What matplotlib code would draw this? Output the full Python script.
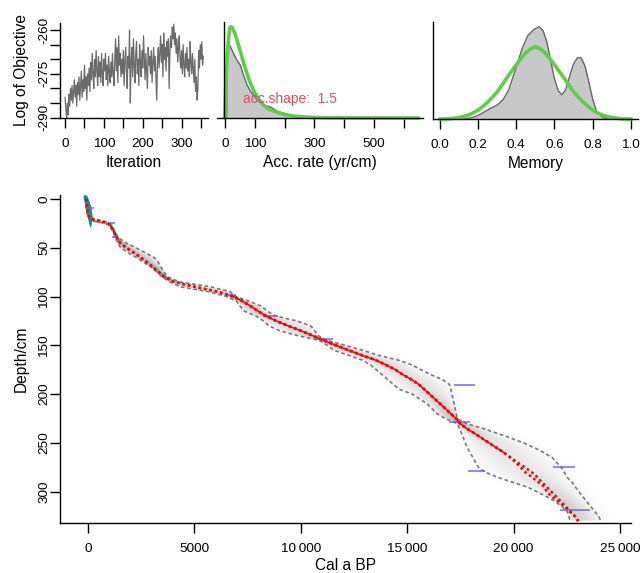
import numpy as np
import matplotlib
matplotlib.use("Agg")
import matplotlib.pyplot as plt
from matplotlib.colors import LinearSegmentedColormap

plt.rcParams['font.family'] = ['Liberation Sans', 'DejaVu Sans']

# ---- panel 1: log of objective (MCMC trace), every 2nd iteration
iterations = list(range(0, 357, 2))
log_obj = [-283, -287, -290, -285, -289, -282, -286, -280, -284, -279,
           -285, -281, -277, -283, -279, -286, -278, -282, -276, -284,
           -279, -274, -283, -277, -281, -272, -280, -276, -284, -275,
           -279, -273, -281, -271, -277, -268, -275, -280, -270, -276,
           -267, -274, -279, -269, -276, -271, -278, -268, -275, -279,
           -270, -274, -268, -277, -272, -279, -269, -274, -278, -271,
           -276, -268, -275, -279, -270, -263, -274, -266, -278, -262,
           -272, -268, -276, -270, -275, -267, -279, -271, -266, -274,
           -280, -269, -273, -260, -285, -271, -266, -276, -263, -272,
           -278, -268, -264, -275, -270, -279, -265, -271, -276, -267,
           -273, -262, -270, -277, -268, -274, -280, -266, -272, -269,
           -275, -267, -278, -271, -266, -274, -269, -277, -284, -270,
           -266, -273, -268, -262, -271, -265, -276, -261, -270, -266,
           -274, -264, -269, -263, -280, -267, -262, -266, -259, -263,
           -258, -265, -261, -268, -263, -271, -266, -262, -270, -273,
           -267, -275, -265, -272, -276, -268, -273, -266, -274, -270,
           -276, -264, -271, -275, -268, -273, -278, -270, -281, -276,
           -284, -280, -267, -273, -265, -270, -264, -272, -269]

# ---- panel 2: accumulation rate (posterior + gamma prior, shape 1.5)
acc_post_x = [0, 5.7, 8, 17, 28, 40, 51, 62, 74, 85, 108, 131, 153, 176, 210, 244, 324, 403, 650]
acc_post_y = [0, 0, 73, 72, 65, 58, 53, 43, 33, 27, 18, 13, 11, 6.7, 3.3, 1.7, 0.7, 0.2, 0]
acc_prior_x = [0, 3, 5.7, 8.5, 11.4, 14, 17, 22.7, 28, 34, 42, 51, 62.5, 79.5, 96.6,
               113.6, 130.7, 150, 176, 205, 233, 290, 350, 450, 653]
acc_prior_y = [0, 35, 52, 66, 77, 86, 91, 91, 88, 84, 76, 67, 55, 39, 27,
               18.5, 12.5, 8.5, 5.5, 3.2, 1.8, 0.6, 0.2, 0.05, 0]

# ---- panel 3: memory (posterior + beta prior)
mem_post_x = [0, 0.13, 0.17, 0.2, 0.25, 0.3, 0.33, 0.36, 0.4, 0.43, 0.46, 0.49, 0.52,
              0.54, 0.56, 0.58, 0.6, 0.62, 0.64, 0.66, 0.68, 0.7, 0.72, 0.74, 0.76,
              0.78, 0.8, 0.82, 0.85, 0.88, 1.0]
mem_post_y = [0, 0, 1.5, 3.5, 9, 14, 19, 29, 52, 70, 83, 89, 92,
              88, 77, 58, 40, 28, 24, 30, 43, 55, 61, 61, 53,
              37, 20, 8, 2, 0, 0]
mem_prior_x = [0, 0.05, 0.1, 0.125, 0.15, 0.175, 0.2, 0.225, 0.25, 0.275, 0.3, 0.325,
               0.35, 0.375, 0.4, 0.425, 0.45, 0.475, 0.5, 0.525, 0.55, 0.575, 0.6,
               0.625, 0.65, 0.675, 0.7, 0.725, 0.75, 0.775, 0.8, 0.825, 0.85, 0.875,
               0.9, 0.95, 1.0]
mem_prior_y = [0, 0.2, 1.5, 2.6, 4, 6.2, 9, 12.6, 17, 21.8, 27, 34,
               41, 47.5, 54, 60.5, 66, 70, 72, 70, 66, 60.5, 54,
               47.5, 41, 34, 27, 21.8, 17, 12.6, 9, 6.2, 4, 2.6,
               1.5, 0.2, 0]

# ---- main panel: age-depth model
depths = [0, 5, 10, 15, 18, 20, 21, 22, 23, 24, 25, 27, 30, 35, 40, 45, 50, 55, 60, 65,
          70, 75, 80, 85, 90, 95, 100, 105, 110, 115, 120, 125, 130, 135, 140, 145, 150,
          155, 160, 165, 170, 175, 180, 185, 190, 195, 200, 210, 220, 225, 230, 235, 240,
          245, 250, 255, 260, 265, 270, 275, 280, 285, 290, 295, 300, 305, 310, 315, 320,
          325, 330]
age_young = [-130, -110, -90, -50, -10, 30, 80, 150, 300, 550, 800, 990, 1080, 1200, 1300,
             1390, 1540, 1880, 2270, 2620, 2990, 3240, 3480, 3850, 4330, 5650, 6520, 6990,
             7150, 7350, 7900, 8250, 8500, 9000, 9850, 10880, 11240, 11560, 12220, 12880,
             13280, 13550, 13820, 14090, 14350, 14620, 15250, 15940, 16400, 16800, 17330,
             17460, 17550, 17640, 17730, 17830, 17960, 18090, 18220, 18350, 18670, 19220,
             19920, 20640, 21100, 21560, 21960, 22260, 22520, 22590, 22660]
age_mean = [-75, -55, -38, 0, 50, 95, 200, 300, 560, 800, 940, 1060, 1130, 1255, 1370,
            1500, 1800, 2150, 2480, 2780, 3050, 3320, 3600, 4050, 5000, 6100, 6830, 7280,
            7650, 8000, 8370, 8850, 9400, 10000, 10550, 11080, 11650, 12250, 12850, 13500,
            14000, 14450, 14800, 15200, 15550, 15800, 16050, 16550, 17050, 17300, 17480,
            17780, 18150, 18500, 18850, 19200, 19550, 19850, 20190, 20530, 20860, 21110,
            21330, 21560, 21780, 22000, 22220, 22440, 22660, 22880, 23050]
age_median = [-75, -55, -38, 0, 50, 95, 200, 300, 560, 800, 940, 1060, 1130, 1255, 1370,
              1500, 1800, 2150, 2480, 2780, 3050, 3320, 3600, 4050, 5000, 6100, 6830, 7280,
              7650, 8000, 8370, 8850, 9400, 10000, 10550, 11080, 11650, 12250, 12850, 13500,
              14000, 14450, 14800, 15200, 15550, 15800, 16050, 16550, 17050, 17300, 17480,
              17780, 18150, 18500, 18850, 19200, 19550, 19850, 20100, 20330, 20560, 20860,
              21150, 21450, 21550, 21800, 22100, 22380, 22620, 22880, 23030]
age_old = [-40, -10, 20, 60, 130, 250, 420, 600, 800, 930, 1030, 1120, 1190, 1310, 1440,
           1780, 2250, 2680, 3100, 3300, 3430, 3580, 3740, 4300, 5750, 6670, 6950, 7600,
           8150, 8430, 8830, 9800, 10460, 10650, 10800, 11250, 12080, 12900, 13620, 14550,
           15220, 15650, 16100, 16650, 16980, 17050, 17100, 17200, 17300, 17360, 17750,
           18550, 19210, 19860, 20470, 21000, 21420, 21820, 22020, 22240, 22380, 22500,
           22740, 22900, 23070, 23250, 23430, 23620, 23800, 23990, 24100]

# calibrated dates (depth, min age, max age)
date_depth = [9, 25, 39, 80.5, 98, 120, 143.7, 190.6, 228.8, 278.7, 275, 318.6]
date_min = [40, 1020, 1130, 3530, 6600, 8230, 10670, 17210, 16970, 17870, 21870, 22180]
date_max = [280, 1260, 1360, 3710, 6950, 8930, 11530, 18190, 17950, 18660, 22900, 23590]

# surface (teal) date outline
teal_age = [-150, -40, 60, 150, 200, 215, 195, 160, 120, 70, 20, -40, -110, -170, -210, -200]
teal_depth = [-4, -3.5, 2, 8, 14, 19, 24, 28, 29.5, 27, 22, 15, 8, 2, -1, -3.5]

tick_fs = 9.7
lab_fs = 11.2

fig = plt.figure(figsize=(6.43, 5.73), dpi=100)

def style(ax):
    for s in ['top', 'right']:
        ax.spines[s].set_visible(False)
    for s in ['left', 'bottom']:
        ax.spines[s].set_linewidth(1.0)
    ax.tick_params(axis='x', length=7, width=1.0, labelsize=tick_fs, pad=7.5)
    ax.tick_params(axis='y', length=7, width=1.0, labelsize=tick_fs, pad=0)

# panel 1
ax1 = fig.add_axes([60/643, 1-118.3/573, 148/643, 95.6/573])
style(ax1)
ax1.plot(iterations, log_obj, color='#6b6b6b', lw=0.9)
ax1.set_xlim(-13, 368)
ax1.set_ylim(-290.2, -257.5)
ax1.set_xticks(range(0, 351, 50))
ax1.set_xticklabels(['0', '', '100', '', '200', '', '300', ''])
ax1.set_yticks(range(-290, -259, 5))
ax1.set_yticklabels(['-290', '', '', '-275', '', '', '-260'], rotation=90, va='center')
ax1.set_xlabel('Iteration', fontsize=lab_fs, labelpad=3.5)
ax1.set_ylabel('Log of Objective', fontsize=lab_fs, labelpad=7)

# panel 2
ax2 = fig.add_axes([217/643, 1-118/573, 206/643, 96/573])
style(ax2)
ax2.spines['left'].set_position(('data', -3.4))
ax2.fill_between(acc_post_x, acc_post_y, color='#c8c8c8', lw=0)
ax2.plot(acc_post_x, acc_post_y, color='#666666', lw=1.0)
ax2.plot(acc_prior_x, acc_prior_y, color='#5ccf45', lw=2.6, clip_on=False, solid_capstyle='butt')
ax2.text(60, 19, 'acc.shape:  1.5', color='#e24a62', fontsize=10, va='center')
ax2.set_xlim(-26.8, 664)
ax2.set_ylim(0, 96)
ax2.set_yticks([])
ax2.set_xticks(range(0, 601, 100))
ax2.set_xticklabels(['0', '100', '', '300', '', '500', ''])
ax2.set_xlabel('Acc. rate (yr/cm)', fontsize=lab_fs, labelpad=3.5)

# panel 3
ax3 = fig.add_axes([433/643, 1-119/573, 205/643, 97/573])
style(ax3)
ax3.fill_between(mem_post_x, mem_post_y, color='#c8c8c8', lw=0)
ax3.plot(mem_post_x, mem_post_y, color='#666666', lw=1.0)
ax3.plot(mem_prior_x, mem_prior_y, color='#5ccf45', lw=2.6, clip_on=False)
ax3.set_xlim(-0.037, 1.038)
ax3.set_ylim(0, 96.7)
ax3.set_yticks([])
ax3.set_xticks([0, 0.2, 0.4, 0.6, 0.8, 1.0])
ax3.set_xticklabels(['0.0', '0.2', '0.4', '0.6', '0.8', '1.0'])
ax3.set_xlabel('Memory', fontsize=lab_fs, labelpad=3.5)

# main panel
ax = fig.add_axes([60/643, 1-523/573, 571/643, 328/573])
style(ax)

# grey probability cloud built from the 95% ranges and the mean
d = np.array(depths, float)
yg = np.array(age_young, float)
mn = np.array(age_mean, float)
ol = np.array(age_old, float)
ages_grid = np.linspace(-1300, 25500, 1200)
depth_grid = np.linspace(-4, 332, 700)
y_i = np.interp(depth_grid, d, yg)
m_i = np.interp(depth_grid, d, mn)
o_i = np.interp(depth_grid, d, ol)
sl = np.maximum((m_i - y_i) / 1.7, 15)
sr = np.maximum((o_i - m_i) / 1.7, 15)
A = ages_grid[None, :]
M = m_i[:, None]
z = np.where(A < M, (A - M) / sl[:, None], (A - M) / sr[:, None])
peak = np.minimum(1.0, (35.0 / ((sl + sr) / 2)) ** 0.7)
dens = peak[:, None] * np.exp(-0.5 * z ** 2)
dens[(depth_grid < 0) | (depth_grid > 330), :] = 0
wb = LinearSegmentedColormap.from_list('wb', ['#ffffff', '#000000'])
ax.imshow(dens, extent=[ages_grid[0], ages_grid[-1], depth_grid[-1], depth_grid[0]],
          cmap=wb, vmin=0, vmax=1, aspect='auto', interpolation='bilinear', zorder=1)

ax.plot(age_young, depths, color='#7a7a7a', lw=1.2, ls=(0, (2.2, 1.6)), zorder=3)
ax.plot(age_old, depths, color='#7a7a7a', lw=1.2, ls=(0, (2.2, 1.6)), zorder=3)
ax.fill(teal_age, teal_depth, color='#149391', lw=0, zorder=4)
ax.hlines(date_depth, date_min, date_max, color='#5a5af0', alpha=0.7, lw=1.4, zorder=4)

sel = (d >= 98) & (d <= 262)
ax.plot(np.array(age_median)[sel], d[sel], color='red', lw=1.1, zorder=5)
ax.plot(age_median, depths, color='red', lw=1.8, ls=(0, (1, 1.2)), zorder=5)
ax.plot(age_mean, depths, color='red', lw=1.8, ls=(0, (1, 1.2)), zorder=5)

ax.set_xlim(-1316, 25517)
ax.set_ylim(332, -4)
ax.set_xticks(range(0, 25001, 5000))
ax.set_xticklabels(['0', '5000', '10\u2009000', '15\u2009000', '20\u2009000', '25\u2009000'])
ax.set_yticks(range(0, 301, 50))
ax.set_yticklabels([str(v) for v in range(0, 301, 50)], rotation=90, va='center')
ax.set_xlabel('Cal a BP', fontsize=lab_fs, labelpad=2)
ax.set_ylabel('Depth/cm', fontsize=lab_fs, labelpad=7)

fig.savefig('out.png', dpi=100)
